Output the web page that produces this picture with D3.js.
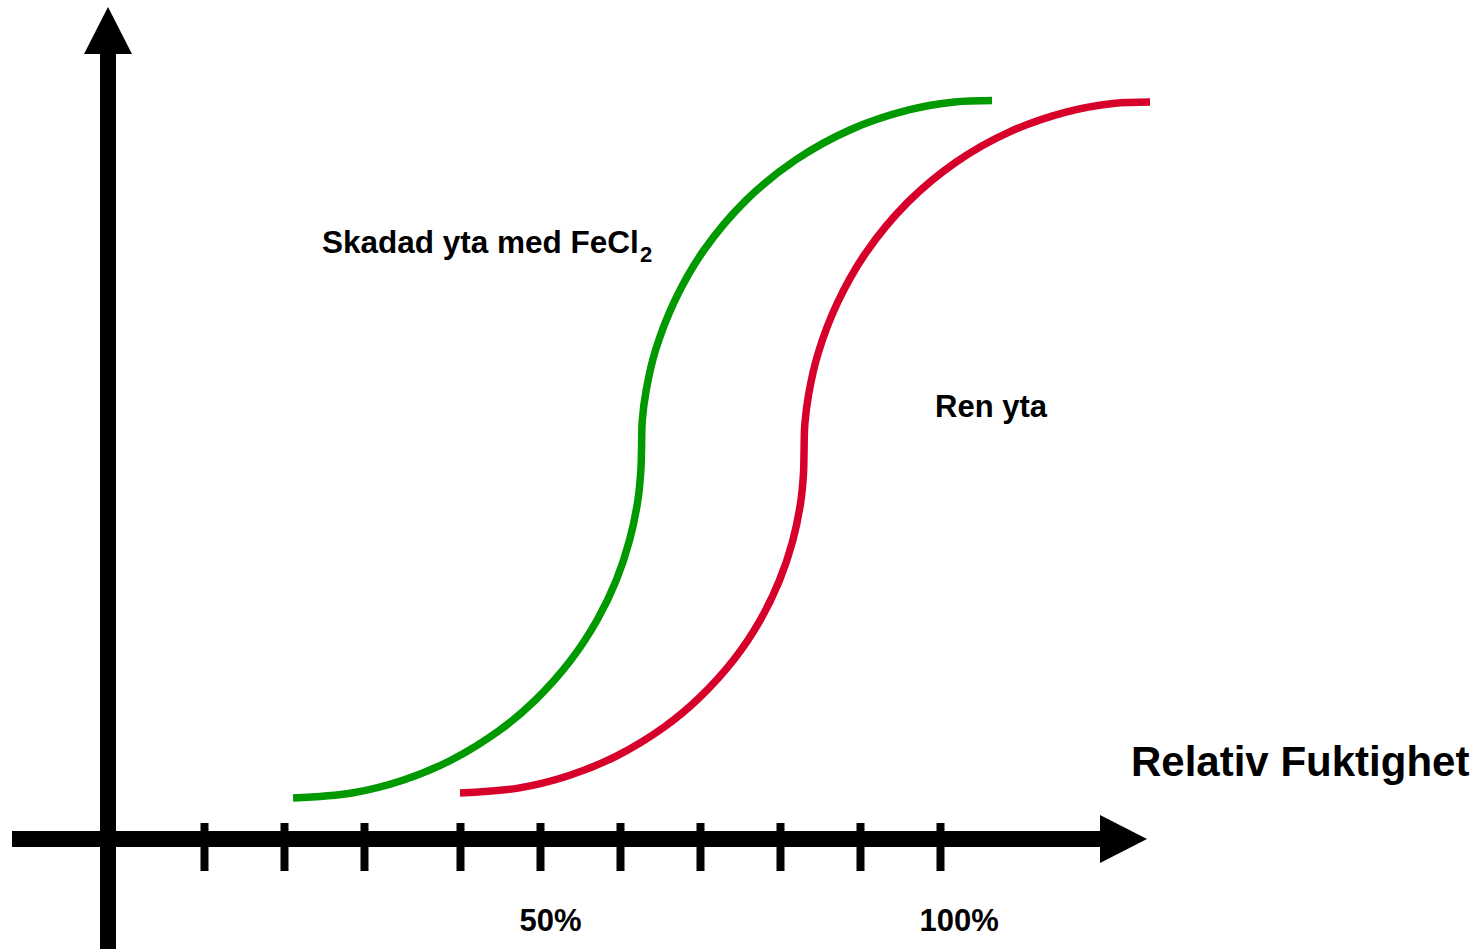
<!DOCTYPE html>
<html lang="sv">
<head>
<meta charset="UTF-8">
<title>Relativ Fuktighet</title>
<script src="https://cdn.jsdelivr.net/npm/d3@7"></script>
<style>
    html, body { margin: 0; padding: 0; background: #fff; }
    svg { display: block; }
    text { font-family: "Liberation Sans", Arial, sans-serif; font-weight: bold; fill: #000; }
</style>
</head>
<body>
<svg id="chart" width="1481" height="949"></svg>
<script>
    // relative humidity (%) on x, amount on y (0-100, arbitrary)
    var skadadRH  = [19.13, 26.49, 32.95, 38.93, 44.99, 49.43, 53.86, 57.14, 59.54, 61.2, 62.24, 62.61, 62.69,
                     62.79, 63.28, 64.45, 66.88, 70.5, 75.79, 81.94, 88.73, 96.09, 101.81, 106.5];
    var skadadVal = [5.41, 6.08, 7.84, 10.54, 14.59, 18.65, 24.05, 29.46, 34.86, 40.27, 45.68, 49.73, 52.43,
                     56.49, 60.54, 65.95, 72.7, 79.46, 86.22, 91.62, 95.68, 98.38, 99.46, 99.66];

    var renRH  = [40.0, 47.26, 53.65, 59.55, 65.53, 69.91, 74.29, 77.53, 79.89, 81.54, 82.56, 82.93, 83.0,
                  83.1, 83.58, 84.74, 87.14, 90.71, 95.94, 102.0, 108.7, 115.98, 121.63, 126.25];
    var renVal = [6.08, 6.74, 8.45, 11.07, 15.0, 18.95, 24.19, 29.45, 34.69, 39.95, 45.19, 49.14, 51.76,
                  55.85, 59.95, 65.41, 72.23, 79.05, 85.88, 91.34, 95.43, 98.16, 99.26, 99.46];

    var tickValues = [8, 18, 28, 40, 50, 60, 70, 80, 90, 100];
    var tickLabels = ["", "", "", "", "50%", "", "", "", "", "100%"];

    var svg = d3.select("#chart");

    var x = d3.scaleLinear().domain([0, 100]).range([140, 940]);
    var y = d3.scaleLinear().domain([0, 100]).range([838, 98]);

    var axisY = 839, originX = 108;

    // curves
    var line = d3.line()
        .x(function (d) { return x(d[0]); })
        .y(function (d) { return y(d[1]); })
        .curve(d3.curveCatmullRom.alpha(0.5));

    svg.append("path")
        .datum(d3.zip(skadadRH, skadadVal))
        .attr("d", line)
        .attr("fill", "none")
        .attr("stroke", "#009900")
        .attr("stroke-width", 7.5);

    svg.append("path")
        .datum(d3.zip(renRH, renVal))
        .attr("d", line)
        .attr("fill", "none")
        .attr("stroke", "#d7002a")
        .attr("stroke-width", 7.5);

    // x axis with ticks
    var xAxis = d3.axisBottom(x)
        .tickValues(tickValues)
        .tickFormat(function (d, i) { return tickLabels[i]; });

    var gx = svg.append("g")
        .attr("transform", "translate(0," + axisY + ")")
        .call(xAxis);
    gx.select(".domain").remove();
    gx.selectAll(".tick line")
        .attr("y1", -16)
        .attr("y2", 32)
        .attr("stroke", "#000")
        .attr("stroke-width", 8);
    gx.selectAll(".tick text")
        .attr("y", 92)
        .attr("dy", 0)
        .attr("x", -21)
        .attr("text-anchor", "start")
        .attr("font-size", 31)
        .attr("font-family", null);

    svg.append("line")
        .attr("x1", 12).attr("x2", 1102)
        .attr("y1", axisY).attr("y2", axisY)
        .attr("stroke", "#000")
        .attr("stroke-width", 16);
    svg.append("path")
        .attr("d", "M1100," + (axisY - 24) + "L1147," + axisY + "L1100," + (axisY + 24) + "Z")
        .attr("fill", "#000");

    // y axis (no ticks)
    svg.append("line")
        .attr("x1", originX).attr("x2", originX)
        .attr("y1", 949).attr("y2", 52)
        .attr("stroke", "#000")
        .attr("stroke-width", 16);
    svg.append("path")
        .attr("d", "M" + (originX - 24) + ",54L" + originX + ",7L" + (originX + 24) + ",54Z")
        .attr("fill", "#000");

    // labels
    var lab1 = svg.append("text")
        .attr("x", 322)
        .attr("y", 253)
        .attr("font-size", 31.5);
    lab1.append("tspan").text("Skadad yta med FeCl");
    lab1.append("tspan").attr("dx", 1).attr("dy", 9).attr("font-size", 22).text("2");

    svg.append("text")
        .attr("x", 935)
        .attr("y", 417)
        .attr("font-size", 31)
        .text("Ren yta");

    svg.append("text")
        .attr("x", 1131)
        .attr("y", 776)
        .attr("font-size", 42)
        .text("Relativ Fuktighet");
</script>
</body>
</html>
